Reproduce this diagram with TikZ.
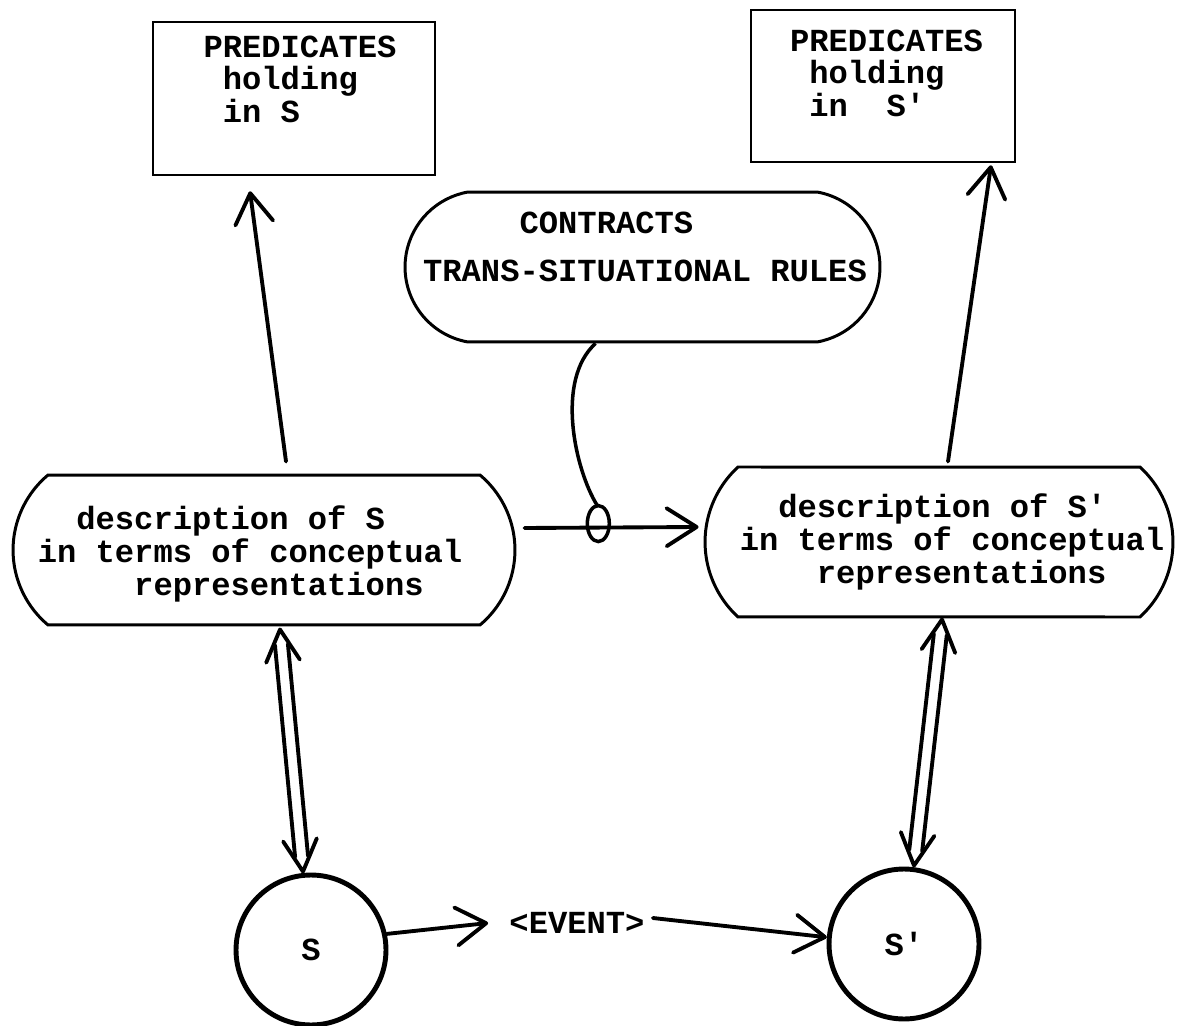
\documentclass[tikz,border=0pt]{standalone}
\usepackage{fontspec}
\setmainfont{Liberation Mono}
\usetikzlibrary{shapes.misc,arrows.meta,calc}
\tikzset{
  tw/.style={font=\fontsize{18.3pt}{18pt}\selectfont\bfseries},
  box/.style={draw, line width=1.5pt, rectangle, inner sep=0pt},
  rr/.style={draw, line width=1.7pt, rounded rectangle, inner sep=0pt},
  state/.style={draw, circle, line width=2.8pt, minimum size=3cm, inner sep=0pt, tw},
  arr/.style={line width=2.2pt, line cap=round, -{Straight Barb[length=0.6cm,width=0.76cm,round]}},
  shaft/.style={line width=2.2pt, line cap=round, line join=round},
  hook/.style={line width=2pt}
}
\newcommand\apos{\textquotesingle}
\begin{document}
\begin{tikzpicture}[x=0.02cm, y=-0.02cm]
\fill[white] (0,0) rectangle (1179,1026);
\useasboundingbox (0,0) rectangle (1179,1026);

% top boxes
\node[box, minimum width=5.64cm, minimum height=3.06cm,
  label={[tw, xshift=0.12cm, yshift=0.3cm]center:{\begin{tabular}{@{}l@{}}PREDICATES\\~holding\\~in S\end{tabular}}}]
  (p1) at (294,98.5) {};
\node[box, minimum width=5.28cm, minimum height=3.04cm,
  label={[tw, xshift=0.07cm, yshift=0.17cm]center:{\begin{tabular}{@{}l@{}}PREDICATES\\~holding\\~in~~S\apos\end{tabular}}}]
  (p2) at (883,86) {};

% contracts
\node[rr, rounded rectangle arc length=160, minimum width=9.5cm, minimum height=3cm,
  label={[tw, xshift=0.05cm, yshift=0.316cm]center:{\begin{tabular}{@{}l@{}}~~~~~CONTRACTS\\[9.8pt]TRANS-SITUATIONAL RULES\end{tabular}}}]
  (c) at (642.5,267) {};

% description nodes
\node[rr, rounded rectangle arc length=100, minimum width=10.04cm, minimum height=3cm,
  label={[tw, xshift=-0.28cm, yshift=-0.108cm]center:{\begin{tabular}{@{}l@{}}~~description of S\\in terms of conceptual\\~~~~~representations\end{tabular}}}]
  (d1) at (264,550) {};
\node[rr, rounded rectangle arc length=95, minimum width=9.36cm, minimum height=3cm,
  label={[tw, xshift=0.26cm, yshift=-0.03cm]center:{\begin{tabular}{@{}l@{}}~~description of S\apos\\in terms of conceptual\\~~~~representations\end{tabular}}}]
  (d2) at (939,542) {};

% states
\node[state] (S) at (311,950) {S};
\node[state] (S2) at (904,944) {S\apos};
\node[tw, inner sep=0pt] (ev) at (577,923) {<EVENT>};

% arrows to predicates
\draw[arr] ($(d1.north)+(22,-12)$) -- ($(p1.south)+(-44,15)$);
\draw[arr] ($(d2.north)+(9,-4)$) -- ($(p2.south)+(108,2)$);

% horizontal arrow with hook
\coordinate (hs) at ($(d1.east)+(8,-22)$);
\coordinate (he) at ($(d2.west)+(-5,-15)$);
\draw[arr] (hs) -- (he);
\coordinate (lp) at ($(hs)!0.43!(he)$);
\coordinate (hk0) at ($(c.south)+(-47,0)$);
\coordinate (hk1) at ($(lp)+(-2,-22)$);
\draw[hook] (hk0) .. controls (555,380) and (575,470) .. (hk1);
\draw[hook] ($(lp)+(-1,-4)$) ellipse [x radius=0.22cm, y radius=0.36cm];

% double arrows
\coordinate (T1) at ($(d1.south)+(16,3)$);
\coordinate (B1) at ($(S.north)+(-8,-1)$);
\coordinate (T1i) at ($(T1)!0.3cm!(B1)$);
\coordinate (B1i) at ($(B1)!0.3cm!(T1)$);
\draw[shaft] ($(T1i)!0.13cm!90:(B1i)$) -- ($(B1i)!0.13cm!-90:(T1i)$);
\draw[shaft] ($(T1i)!0.13cm!-90:(B1i)$) -- ($(B1i)!0.13cm!90:(T1i)$);
\draw[shaft] ($(T1)!0.72cm!28:(B1)$) -- (T1) -- ($(T1)!0.72cm!-28:(B1)$);
\draw[shaft] ($(B1)!0.72cm!28:(T1)$) -- (B1) -- ($(B1)!0.72cm!-28:(T1)$);

\coordinate (T2) at ($(d2.south)+(3,1)$);
\coordinate (B2) at ($(S2.north)+(10,-1)$);
\coordinate (T2i) at ($(T2)!0.3cm!(B2)$);
\coordinate (B2i) at ($(B2)!0.3cm!(T2)$);
\draw[shaft] ($(T2i)!0.13cm!90:(B2i)$) -- ($(B2i)!0.13cm!-90:(T2i)$);
\draw[shaft] ($(T2i)!0.13cm!-90:(B2i)$) -- ($(B2i)!0.13cm!90:(T2i)$);
\draw[shaft] ($(T2)!0.72cm!28:(B2)$) -- (T2) -- ($(T2)!0.72cm!-28:(B2)$);
\draw[shaft] ($(B2)!0.72cm!28:(T2)$) -- (B2) -- ($(B2)!0.72cm!-28:(T2)$);

% event arrows
\draw[arr] (S.12) -- ($(ev.west)+(-21,0)$);
\draw[arr] ($(ev.east)+(8,-5)$) -- (S2.175);
\end{tikzpicture}
\end{document}
